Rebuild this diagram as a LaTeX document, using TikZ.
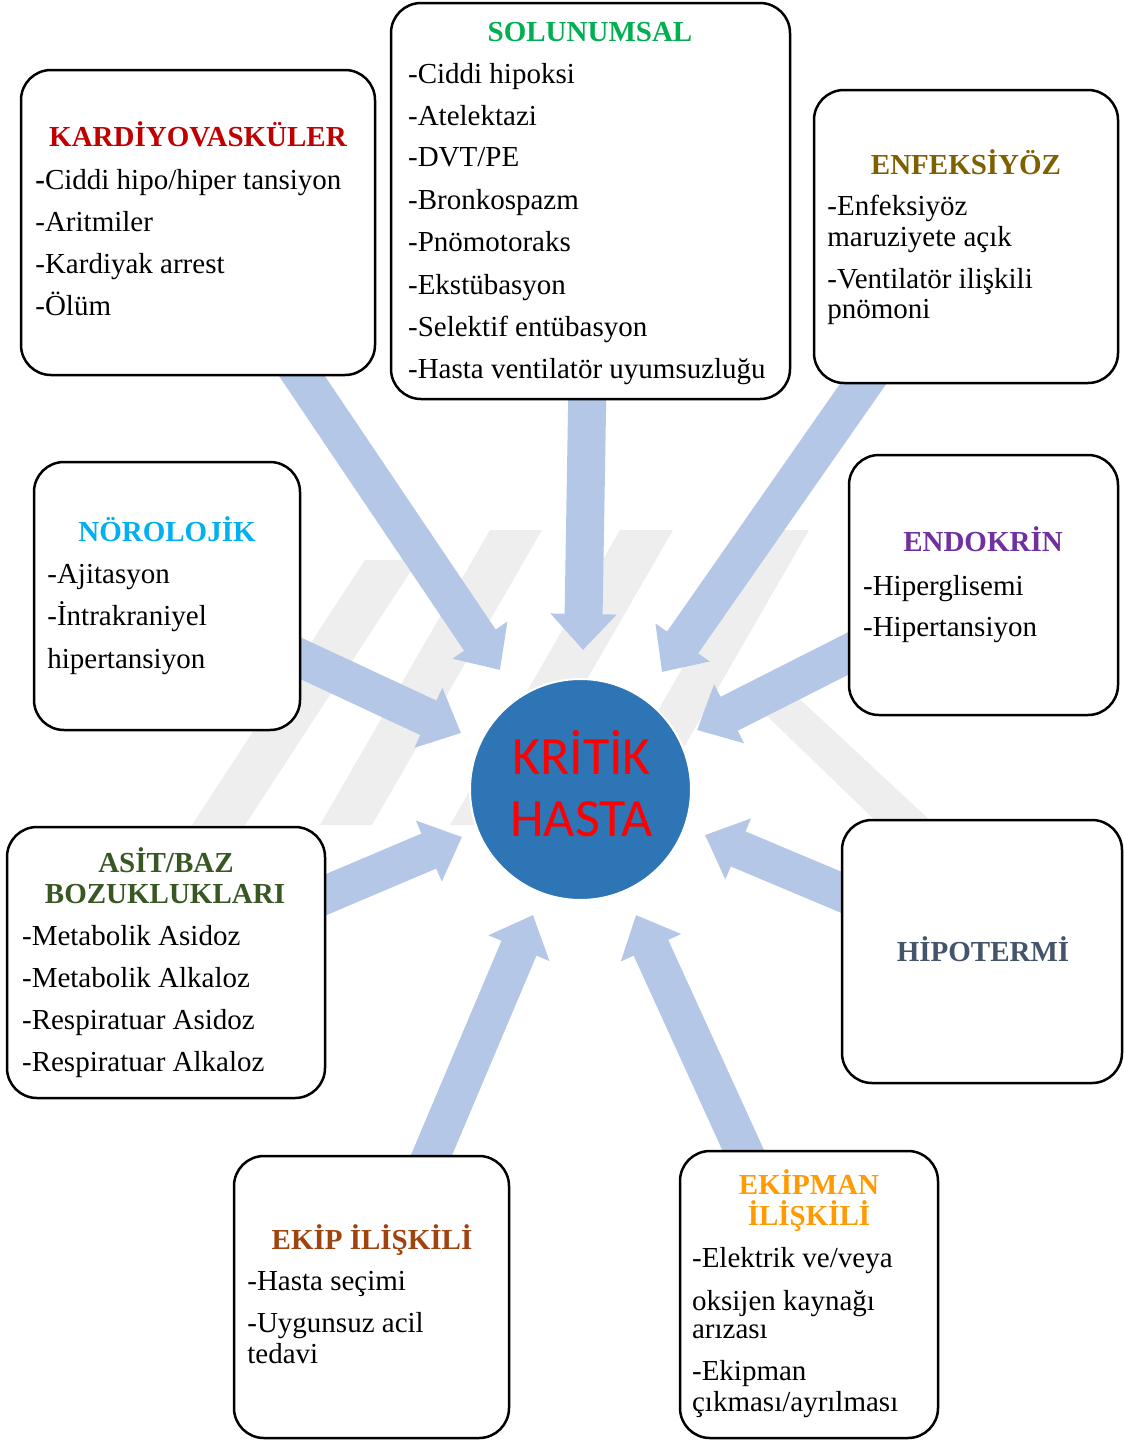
\documentclass[tikz,border=0pt]{standalone}
\usepackage{fontspec}
\setmainfont{Liberation Serif}
\newfontfamily\calibfont{Carlito}
\usetikzlibrary{arrows.meta}
\definecolor{arrowblue}{HTML}{B4C7E7}
\definecolor{circblue}{HTML}{2E75B6}
\definecolor{wmgray}{HTML}{EEEEEE}
\definecolor{cKar}{HTML}{C00000}
\definecolor{cSol}{HTML}{00B050}
\definecolor{cEnf}{HTML}{7F6000}
\definecolor{cNor}{HTML}{00B0F0}
\definecolor{cEnd}{HTML}{7030A0}
\definecolor{cAsi}{HTML}{385723}
\definecolor{cHip}{HTML}{44546A}
\definecolor{cEkp}{HTML}{A0430F}
\definecolor{cEki}{HTML}{FF9A00}
\tikzset{
  cbox/.style={draw=black, line width=1.25pt, rounded corners=15pt, fill=white,
    anchor=north west, inner sep=0pt, outer sep=0pt},
  ttl/.style={font=\fontsize{14.5}{17}\selectfont\bfseries, anchor=base, inner sep=0pt},
  itm/.style={font=\fontsize{14.5}{17}\selectfont, anchor=base west, inner sep=0pt},
  blockarrow/.style={draw=arrowblue, line width=19pt, -{Triangle[length=18pt,width=32pt]}},
  crittxt/.style={font=\fontsize{27}{30}\calibfont, text=red, anchor=base, inner sep=0pt},
  wm/.style={fill=wmgray, draw=none}
}
\begin{document}
\begin{tikzpicture}[x=0.5pt,y=-0.5pt]
\useasboundingbox (0,0) rectangle (1124,1440);
\fill[white] (0,0) rectangle (1124,1440);

% faint watermark
\fill[wm] (365,560) -- (418,560) -- (245,825) -- (192,825) -- cycle;
\fill[wm] (490,530) -- (542,530) -- (372,825) -- (320,825) -- cycle;
\fill[wm] (620,530) -- (673,530) -- (503,825) -- (450,825) -- cycle;
\fill[wm] (762,530) -- (809,530) -- (639,825) -- (592,825) -- cycle;
\fill[wm] (740,690) -- (790,690) -- (935,825) -- (880,825) -- cycle;

% tips
\coordinate (t1) at (500,670);
\coordinate (t2) at (583,650);
\coordinate (t3) at (662,672);
\coordinate (t4) at (461,733);
\coordinate (t5) at (697,730);
\coordinate (t6) at (462,837);
\coordinate (t7) at (705,835);
\coordinate (t8) at (533,915);
\coordinate (t9) at (636,915);
% box centres
\coordinate (ckar) at (198.5,222.5);
\coordinate (csol) at (590.5,201);
\coordinate (cenf) at (966,236.5);
\coordinate (cnor) at (167,596);
\coordinate (cend) at (983.5,585);
\coordinate (casi) at (166,962.5);
\coordinate (chip) at (982,951.5);
\coordinate (cekp) at (371.5,1297);
\coordinate (ceki) at (809,1294.5);

% arrows
\draw[blockarrow] (ckar) -- (t1);
\draw[blockarrow] (csol) -- (t2);
\draw[blockarrow] (cenf) -- (t3);
\draw[blockarrow] (cnor) -- (t4);
\draw[blockarrow] (cend) -- (t5);
\draw[blockarrow] (casi) -- (t6);
\draw[blockarrow] (chip) -- (t7);
\draw[blockarrow] (cekp) -- (t8);
\draw[blockarrow] (ceki) -- (t9);

% boxes
\node[cbox, minimum width=177pt, minimum height=152.5pt] (kar) at (21,70) {};
\node[cbox, minimum width=199.5pt, minimum height=198pt] (sol) at (391,3) {};
\node[cbox, minimum width=152pt, minimum height=146.5pt] (enf) at (814,90) {};
\node[cbox, minimum width=133pt, minimum height=134pt] (nor) at (34,462) {};
\node[cbox, minimum width=134.5pt, minimum height=130pt] (end) at (849,455) {};
\node[cbox, minimum width=159pt, minimum height=135.5pt] (asi) at (7,827) {};
\node[cbox, minimum width=140pt, minimum height=131.5pt] (hip) at (842,820) {};
\node[cbox, minimum width=137.5pt, minimum height=141pt] (ekp) at (234,1156) {};
\node[cbox, minimum width=129pt, minimum height=143.5pt] (eki) at (680,1151) {};

% centre circle
\node[circle, fill=circblue, draw=white, line width=1pt, minimum size=110.5pt, inner sep=0pt] (crit) at (580.5,789.5) {};
\node[crittxt] (crit1) at (581.5,774) {KRİTİK};
\node[crittxt] (crit2) at (581.5,836) {HASTA};

% KARDIYOVASKULER
\node[ttl, text=cKar] (karT) at (198,146) {KARDİYOVASKÜLER};
\node[itm] (kar1) at (35,189) {\textbf{-}Ciddi hipo/hiper tansiyon};
\node[itm] (kar2) at (35,231) {-Aritmiler};
\node[itm] (kar3) at (35,273) {-Kardiyak arrest};
\node[itm] (kar4) at (35,315) {-Ölüm};

% SOLUNUMSAL
\node[ttl, text=cSol] (solT) at (590,41.7) {SOLUNUMSAL};
\node[itm] (sol1) at (407.7,83.3) {-Ciddi hipoksi};
\node[itm] (sol2) at (407.7,125) {-Atelektazi};
\node[itm] (sol3) at (407.7,166.7) {-DVT/PE};
\node[itm] (sol4) at (407.7,209) {-Bronkospazm};
\node[itm] (sol5) at (407.7,251.7) {-Pnömotoraks};
\node[itm] (sol6) at (407.7,294) {-Ekstübasyon};
\node[itm] (sol7) at (407.7,336.7) {-Selektif entübasyon};
\node[itm] (sol8) at (407.7,378) {-Hasta ventilatör uyumsuzluğu};

% ENFEKSIYOZ
\node[ttl, text=cEnf] (enfT) at (966,174) {ENFEKSİYÖZ};
\node[itm] (enf1) at (827,215) {-Enfeksiyöz};
\node[itm] (enf2) at (827,246) {maruziyete açık};
\node[itm] (enf3) at (827,288) {-Ventilatör ilişkili};
\node[itm] (enf4) at (827,318) {pnömoni};

% NOROLOJIK
\node[ttl, text=cNor] (norT) at (167,541.7) {NÖROLOJİK};
\node[itm] (nor1) at (47,583) {-Ajitasyon};
\node[itm] (nor2) at (47,625.7) {-İntrakraniyel};
\node[itm] (nor3) at (47,668) {hipertansiyon};

% ENDOKRIN
\node[ttl, text=cEnd] (endT) at (983,551.7) {ENDOKRİN};
\node[itm] (end1) at (862.7,595) {-Hiperglisemi};
\node[itm] (end2) at (862.7,636.7) {-Hipertansiyon};

% HIPOTERMI
\node[ttl, text=cHip] (hipT) at (983,961) {HİPOTERMİ};

% ASIT/BAZ
\node[ttl, text=cAsi] (asiT1) at (166,872.7) {ASİT/BAZ};
\node[ttl, text=cAsi] (asiT2) at (165,903) {BOZUKLUKLARI};
\node[itm] (asi1) at (21.7,945) {-Metabolik Asidoz};
\node[itm] (asi2) at (21.7,987) {-Metabolik Alkaloz};
\node[itm] (asi3) at (21.7,1029) {-Respiratuar Asidoz};
\node[itm] (asi4) at (21.7,1071) {-Respiratuar Alkaloz};

% EKIP ILISKILI
\node[ttl, text=cEkp] (ekpT) at (372,1249) {EKİP İLİŞKİLİ};
\node[itm] (ekp1) at (247,1290) {-Hasta seçimi};
\node[itm] (ekp2) at (247,1332.7) {-Uygunsuz acil};
\node[itm] (ekp3) at (247,1363) {tedavi};

% EKIPMAN ILISKILI
\node[ttl, text=cEki] (ekiT1) at (809,1194) {EKİPMAN};
\node[ttl, text=cEki] (ekiT2) at (809,1225.7) {İLİŞKİLİ};
\node[itm] (eki1) at (691.7,1267.7) {-Elektrik ve/veya};
\node[itm] (eki2) at (691.7,1310) {oksijen kaynağı};
\node[itm] (eki3) at (691.7,1338) {arızası};
\node[itm] (eki4) at (691.7,1380) {-Ekipman};
\node[itm] (eki5) at (691.7,1411.7) {çıkması/ayrılması};
\end{tikzpicture}
\end{document}
